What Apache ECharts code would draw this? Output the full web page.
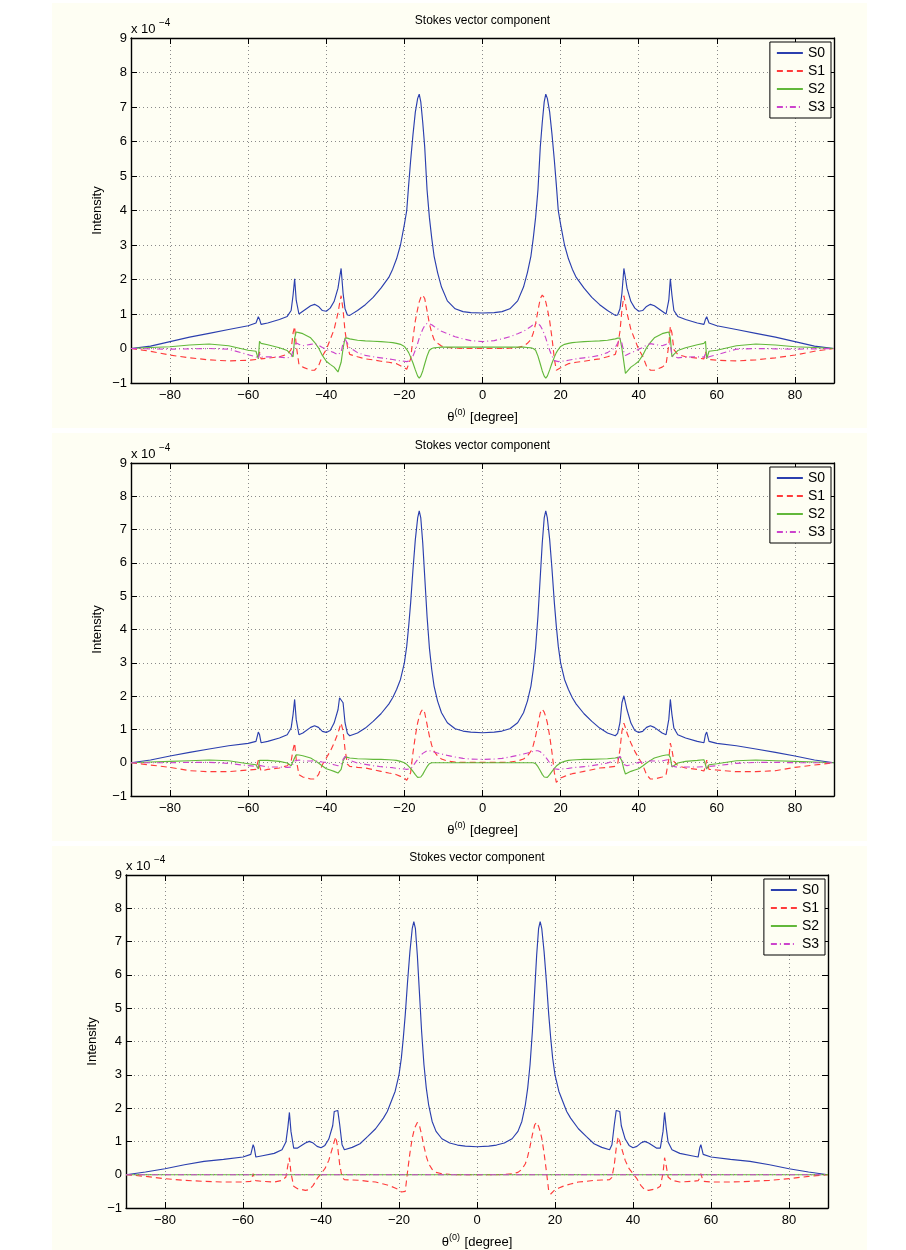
<!DOCTYPE html>
<html><head><meta charset="utf-8">
<script src="https://cdn.jsdelivr.net/npm/echarts@6/dist/echarts.min.js"></script>
<style>html,body{margin:0;padding:0;background:#fff;}#c{width:906px;height:1250px;}</style>
</head><body><div id="c"></div>
<script>
// ---------- data ----------
const theta = [-90,-85,-80,-75,-70,-65,-60,-58,-57.4,-57.1,
  -56.7,-55,-52,-50,-49,-48.5,-48.1,-47.7,-47,-46,
  -44,-43,-42,-41,-40,-39,-38,-37,-36.6,-36.2,
  -35.7,-35.2,-34.6,-34,-32,-30,-28,-26,-24,-23,
  -22,-21,-20,-19.4,-18.9,-18.4,-17.8,-17.2,-16.6,-16.2,
  -15.8,-15.3,-14.8,-14.2,-13.6,-13,-12.4,-11.5,-10.5,-9,
  -7,-5,-3,0,
  3,5,7,
  9,10.5,11.5,12.4,13,13.6,14.2,14.8,15.3,15.8,
  16.2,16.6,17.2,17.8,18.4,18.9,19.4,20,21,22,
  23,24,26,28,30,32,34,34.6,35.2,35.7,
  36.2,36.6,37,38,39,40,41,42,43,44,
  46,47,47.7,48.1,48.5,49,50,52,55,56.7,
  57.1,57.4,58,60,65,70,75,80,85,90];
const thetaEnds = [-90, 90];
const xTicks = [-80,-60,-40,-20,0,20,40,60,80];
const seriesNames = ['S0','S1','S2','S3'];

// Panel 1
const p1S0 = [0,0.07,0.2,0.33,0.44,0.55,0.66,0.74,0.92,0.85,
  0.7,0.74,0.84,0.93,1.1,1.55,2.02,1.4,1.0,1.08,
  1.24,1.28,1.22,1.1,1.08,1.17,1.36,1.75,2.05,2.32,
  1.6,1.15,0.97,0.96,1.1,1.27,1.48,1.75,2.06,2.3,
  2.6,3.0,3.6,4.0,4.75,5.45,6.2,6.85,7.25,7.37,
  7.15,6.55,5.85,4.6,3.8,3.2,2.68,2.2,1.78,1.38,
  1.15,1.07,1.04,1.03,
  1.04,1.07,1.15,
  1.38,1.78,2.2,2.68,3.2,3.8,4.6,5.85,6.55,7.15,
  7.37,7.25,6.85,6.2,5.45,4.75,4.0,3.6,3.0,2.6,
  2.3,2.06,1.75,1.48,1.27,1.1,0.96,0.97,1.15,1.6,
  2.32,2.05,1.75,1.36,1.17,1.08,1.1,1.22,1.28,1.24,
  1.08,1.0,1.4,2.02,1.55,1.1,0.93,0.84,0.74,0.7,
  0.85,0.92,0.74,0.66,0.55,0.44,0.33,0.2,0.07,0];
const p1S1 = [0,-0.08,-0.19,-0.27,-0.33,-0.36,-0.34,-0.32,-0.25,-0.1,
  -0.3,-0.28,-0.24,-0.17,-0.03,0.45,0.64,0.1,-0.46,-0.54,
  -0.63,-0.63,-0.51,-0.22,-0.03,0.26,0.55,1.03,1.3,1.53,
  1.12,0.5,0.07,-0.17,-0.24,-0.3,-0.33,-0.37,-0.4,-0.42,
  -0.44,-0.5,-0.56,-0.6,-0.63,-0.3,0.3,0.8,1.15,1.35,
  1.48,1.55,1.45,1.1,0.72,0.45,0.26,0.15,0.07,0.03,
  0.01,0,0,0,
  0,0,0.01,
  0.03,0.07,0.15,0.26,0.45,0.72,1.1,1.45,1.55,1.48,
  1.35,1.15,0.8,0.3,-0.3,-0.63,-0.6,-0.56,-0.5,-0.44,
  -0.42,-0.4,-0.37,-0.33,-0.3,-0.24,-0.17,0.07,0.5,1.12,
  1.53,1.3,1.03,0.55,0.26,-0.03,-0.22,-0.51,-0.63,-0.63,
  -0.54,-0.46,0.1,0.64,0.45,-0.03,-0.17,-0.24,-0.28,-0.3,
  -0.1,-0.25,-0.32,-0.34,-0.36,-0.33,-0.27,-0.19,-0.08,0];
const p1S2 = [0,0.03,0.05,0.1,0.13,0.08,-0.05,-0.08,-0.3,0.21,
  0.15,0.11,0.02,-0.06,-0.17,-0.24,0.3,0.48,0.46,0.43,
  0.31,0.18,0.02,-0.2,-0.37,-0.46,-0.54,-0.68,-0.72,-0.4,
  0.0,0.3,0.3,0.28,0.24,0.22,0.21,0.2,0.18,0.17,
  0.15,0.12,0.06,-0.03,-0.12,-0.25,-0.42,-0.62,-0.8,-0.86,
  -0.8,-0.65,-0.45,-0.22,-0.05,0.0,0.02,0.03,0.04,0.04,
  0.04,0.04,0.04,0.04,
  0.04,0.04,0.04,
  0.04,0.04,0.03,0.02,0.0,-0.05,-0.22,-0.45,-0.65,-0.8,
  -0.86,-0.8,-0.62,-0.42,-0.25,-0.12,-0.03,0.06,0.12,0.15,
  0.17,0.18,0.2,0.21,0.22,0.24,0.28,0.3,0.3,0.0,
  -0.4,-0.72,-0.68,-0.54,-0.46,-0.37,-0.2,0.02,0.18,0.31,
  0.43,0.46,0.48,0.3,-0.24,-0.17,-0.06,0.02,0.11,0.15,
  0.21,-0.3,-0.08,-0.05,0.08,0.13,0.1,0.05,0.03,0];
const p1S3 = [0,-0.01,-0.02,-0.01,0.0,-0.02,-0.18,-0.24,-0.3,-0.15,
  -0.25,-0.24,-0.25,-0.27,-0.25,-0.2,0.1,0.16,0.12,0.08,
  0.12,0.14,0.1,0.03,-0.02,-0.08,-0.12,-0.18,-0.2,-0.1,
  0.15,0.28,0.15,0.03,-0.12,-0.2,-0.24,-0.27,-0.3,-0.32,
  -0.34,-0.36,-0.37,-0.38,-0.39,-0.35,-0.22,-0.05,0.15,0.3,
  0.42,0.56,0.66,0.73,0.72,0.69,0.64,0.57,0.5,0.43,
  0.34,0.28,0.23,0.2,
  0.23,0.28,0.34,
  0.43,0.5,0.57,0.64,0.69,0.72,0.73,0.66,0.56,0.42,
  0.3,0.15,-0.05,-0.22,-0.35,-0.39,-0.38,-0.37,-0.36,-0.34,
  -0.32,-0.3,-0.27,-0.24,-0.2,-0.12,0.03,0.15,0.28,0.15,
  -0.1,-0.2,-0.18,-0.12,-0.08,-0.02,0.03,0.1,0.14,0.12,
  0.08,0.12,0.16,0.1,-0.2,-0.25,-0.27,-0.25,-0.24,-0.25,
  -0.15,-0.3,-0.24,-0.18,-0.02,0.0,-0.01,-0.02,-0.01,0];

// Panel 2
const p2S0 = [0,0.08,0.2,0.31,0.41,0.51,0.58,0.64,0.92,0.85,
  0.6,0.64,0.74,0.84,1.04,1.45,1.9,1.3,0.84,0.89,
  1.06,1.11,1.06,0.94,0.91,0.97,1.19,1.59,1.95,2.01,
  1.8,1.2,0.88,0.81,0.89,1.04,1.24,1.47,1.76,1.95,
  2.2,2.5,3.0,3.5,4.1,4.8,5.8,6.7,7.35,7.56,
  7.35,6.6,5.6,4.4,3.45,2.8,2.3,1.85,1.5,1.2,
  1.02,0.95,0.92,0.9,
  0.92,0.95,1.02,
  1.2,1.5,1.85,2.3,2.8,3.45,4.4,5.6,6.6,7.35,
  7.56,7.35,6.7,5.8,4.8,4.1,3.5,3.0,2.5,2.2,
  1.95,1.76,1.47,1.24,1.04,0.89,0.81,0.88,1.2,1.8,
  2.01,1.95,1.59,1.19,0.97,0.91,0.94,1.06,1.11,1.06,
  0.89,0.84,1.3,1.9,1.45,1.04,0.84,0.74,0.64,0.6,
  0.85,0.92,0.64,0.58,0.51,0.41,0.31,0.2,0.08,0];
const p2S1 = [0,-0.07,-0.14,-0.24,-0.27,-0.27,-0.22,-0.2,0.08,-0.1,
  -0.25,-0.2,-0.16,-0.09,0.04,0.39,0.59,0.1,-0.36,-0.43,
  -0.49,-0.49,-0.36,-0.06,0.14,0.34,0.59,0.89,1.05,1.19,
  0.95,0.4,-0.04,-0.11,-0.14,-0.16,-0.21,-0.26,-0.31,-0.33,
  -0.36,-0.41,-0.46,-0.53,-0.59,-0.3,0.3,0.8,1.2,1.38,
  1.52,1.61,1.5,1.15,0.8,0.52,0.35,0.2,0.11,0.05,
  0.02,0.01,0.01,0.01,
  0.01,0.01,0.02,
  0.05,0.11,0.2,0.35,0.52,0.8,1.15,1.5,1.61,1.52,
  1.38,1.2,0.8,0.3,-0.3,-0.59,-0.53,-0.46,-0.41,-0.36,
  -0.33,-0.31,-0.26,-0.21,-0.16,-0.14,-0.11,-0.04,0.4,0.95,
  1.19,1.05,0.89,0.59,0.34,0.14,-0.06,-0.36,-0.49,-0.49,
  -0.43,-0.36,0.1,0.59,0.39,0.04,-0.09,-0.16,-0.2,-0.25,
  -0.1,0.08,-0.2,-0.22,-0.27,-0.27,-0.24,-0.14,-0.07,0];
const p2S2 = [0,0.02,0.04,0.06,0.08,0.06,-0.03,-0.06,-0.19,0.07,
  0.09,0.07,0.04,-0.01,-0.09,-0.13,0.15,0.24,0.23,0.21,
  0.14,0.07,-0.01,-0.1,-0.18,-0.22,-0.26,-0.31,-0.34,-0.2,
  0.05,0.16,0.16,0.14,0.12,0.11,0.1,0.1,0.09,0.08,
  0.07,0.04,0.0,-0.05,-0.1,-0.17,-0.26,-0.36,-0.44,-0.47,
  -0.43,-0.35,-0.24,-0.12,-0.03,0.0,0.0,0.0,0.0,0.0,
  0,0,0,0,
  0,0,0,
  0.0,0.0,0.0,0.0,0.0,-0.03,-0.12,-0.24,-0.35,-0.43,
  -0.47,-0.44,-0.36,-0.26,-0.17,-0.1,-0.05,0.0,0.04,0.07,
  0.08,0.09,0.1,0.1,0.11,0.12,0.14,0.16,0.16,0.05,
  -0.2,-0.34,-0.31,-0.26,-0.22,-0.18,-0.1,-0.01,0.07,0.14,
  0.21,0.23,0.24,0.15,-0.13,-0.09,-0.01,0.04,0.07,0.09,
  0.07,-0.19,-0.06,-0.03,0.06,0.08,0.06,0.04,0.02,0];
const p2S3 = [0,0,0,0.01,0.01,-0.02,-0.09,-0.11,-0.15,-0.08,
  -0.12,-0.13,-0.13,-0.14,-0.13,-0.1,0.05,0.09,0.08,0.05,
  0.05,0.06,0.04,0.02,0.01,-0.03,-0.06,-0.09,-0.1,-0.05,
  0.1,0.19,0.12,0.07,-0.01,-0.05,-0.09,-0.12,-0.14,-0.15,
  -0.17,-0.18,-0.19,-0.2,-0.21,-0.18,-0.1,0.0,0.1,0.17,
  0.22,0.28,0.33,0.36,0.36,0.34,0.32,0.29,0.26,0.22,
  0.17,0.13,0.11,0.1,
  0.11,0.13,0.17,
  0.22,0.26,0.29,0.32,0.34,0.36,0.36,0.33,0.28,0.22,
  0.17,0.1,0.0,-0.1,-0.18,-0.21,-0.2,-0.19,-0.18,-0.17,
  -0.15,-0.14,-0.12,-0.09,-0.05,-0.01,0.07,0.12,0.19,0.1,
  -0.05,-0.1,-0.09,-0.06,-0.03,0.01,0.02,0.04,0.06,0.05,
  0.05,0.08,0.09,0.05,-0.1,-0.13,-0.14,-0.13,-0.13,-0.12,
  -0.08,-0.15,-0.11,-0.09,-0.02,0.01,0.01,0,0,0];

// Panel 3
const p3S0 = [0,0.08,0.18,0.3,0.4,0.46,0.53,0.61,0.9,0.8,
  0.53,0.57,0.64,0.75,0.98,1.42,1.87,1.3,0.8,0.8,
  0.95,1.0,0.95,0.85,0.81,0.88,1.07,1.47,1.9,1.94,
  1.93,1.5,0.9,0.75,0.82,0.93,1.15,1.38,1.7,1.9,
  2.2,2.5,3.0,3.5,4.1,4.8,5.8,6.7,7.4,7.6,
  7.4,6.6,5.55,4.3,3.3,2.6,2.1,1.6,1.3,1.08,
  0.95,0.89,0.86,0.84,
  0.86,0.89,0.95,
  1.08,1.3,1.6,2.1,2.6,3.3,4.3,5.55,6.6,7.4,
  7.6,7.4,6.7,5.8,4.8,4.1,3.5,3.0,2.5,2.2,
  1.9,1.7,1.38,1.15,0.93,0.82,0.75,0.9,1.5,1.93,
  1.94,1.9,1.47,1.07,0.88,0.81,0.85,0.95,1.0,0.95,
  0.8,0.8,1.3,1.87,1.42,0.98,0.75,0.64,0.57,0.53,
  0.8,0.9,0.61,0.53,0.46,0.4,0.3,0.18,0.08,0];
const p3S1 = [0,-0.05,-0.12,-0.17,-0.2,-0.22,-0.22,-0.2,0.03,-0.1,
  -0.18,-0.2,-0.22,-0.17,-0.07,0.28,0.51,0.05,-0.35,-0.42,
  -0.47,-0.45,-0.32,-0.12,0.03,0.18,0.43,0.83,1.0,1.14,
  0.8,0.3,-0.08,-0.15,-0.16,-0.17,-0.2,-0.22,-0.28,-0.31,
  -0.35,-0.4,-0.45,-0.52,-0.58,-0.5,0.1,0.65,1.1,1.3,
  1.45,1.57,1.5,1.2,0.85,0.55,0.33,0.16,0.07,0.03,
  0.01,0,0,0,
  0,0,0.01,
  0.03,0.07,0.16,0.33,0.55,0.85,1.2,1.5,1.57,1.45,
  1.3,1.1,0.65,0.1,-0.5,-0.58,-0.52,-0.45,-0.4,-0.35,
  -0.31,-0.28,-0.22,-0.2,-0.17,-0.16,-0.15,-0.08,0.3,0.8,
  1.14,1.0,0.83,0.43,0.18,0.03,-0.12,-0.32,-0.45,-0.47,
  -0.42,-0.35,0.05,0.51,0.28,-0.07,-0.17,-0.22,-0.2,-0.18,
  -0.1,0.03,-0.2,-0.22,-0.22,-0.2,-0.17,-0.12,-0.05,0];
const p3S2 = [0, 0];
const p3S3 = [0, 0];

// ---------- layout & style ----------
const FONT = 'Liberation Sans, Arial, Helvetica, sans-serif';
const CREAM = '#fefef3';
const COLORS = ['#2b3fae', '#ff3b3b', '#62b83a', '#cc44cc'];
const DASH = ['solid', [6, 4], 'solid', [6, 3, 1, 3]];
const grids = [
  {left: 131, top: 38, width: 703, height: 345},
  {left: 131, top: 463, width: 703, height: 333},
  {left: 126, top: 875, width: 702, height: 333}
];
const figBoxes = [{y: 3, h: 425}, {y: 433, h: 408}, {y: 846, h: 404}];
const panelData = [
  [[theta, p1S0], [theta, p1S1], [theta, p1S2], [theta, p1S3]],
  [[theta, p2S0], [theta, p2S1], [theta, p2S2], [theta, p2S3]],
  [[theta, p3S0], [theta, p3S1], [thetaEnds, p3S2], [thetaEnds, p3S3]]
];

const minus = v => String(v).replace('-', '\u2212');
const pairs = (xs, ys) => xs.map((x, i) => [x, ys[i]]);

const xAxis = [], yAxis = [], series = [], legend = [], graphic = [];
const dotted = {show: true, lineStyle: {color: '#8a8a8a', width: 1, type: [1, 3]}};
const axisLine = {show: true, onZero: false, lineStyle: {color: '#000', width: 1.4}};

figBoxes.forEach(b => graphic.push({type: 'rect', z: -10, shape: {x: 52, y: b.y, width: 815, height: b.h}, style: {fill: CREAM}}));

grids.forEach((g, i) => {
  xAxis.push({
    type: 'value', gridIndex: i, min: -90, max: 90, position: 'bottom',
    axisLine, axisTick: {inside: true, length: 6, customValues: xTicks, lineStyle: {color: '#000'}},
    axisLabel: {customValues: xTicks, formatter: minus, color: '#000', fontSize: 13, fontFamily: FONT, margin: 6},
    splitLine: dotted,
    name: '{t|\u03b8}{s|(0)}{t| [degree]}', nameLocation: 'middle', nameGap: 25, nameMoveOverlap: false,
    nameTextStyle: {rich: {
      t: {fontSize: 13, fontFamily: FONT, color: '#000'},
      s: {fontSize: 9, fontFamily: FONT, color: '#000', padding: [0, 1, 9, 0]}
    }}
  });
  xAxis.push({
    type: 'value', gridIndex: i, min: -90, max: 90, position: 'top',
    axisLine, axisTick: {inside: true, length: 6, customValues: xTicks, lineStyle: {color: '#000'}},
    axisLabel: {show: false}, splitLine: {show: false}
  });
  yAxis.push({
    type: 'value', gridIndex: i, min: -1, max: 9, interval: 1, position: 'left',
    axisLine, axisTick: {inside: true, length: 6, lineStyle: {color: '#000'}},
    axisLabel: {formatter: minus, color: '#000', fontSize: 13, fontFamily: FONT, margin: 4},
    splitLine: dotted,
    name: 'Intensity', nameLocation: 'middle', nameGap: 27, nameMoveOverlap: false,
    nameTextStyle: {fontSize: 13, fontFamily: FONT, color: '#000'}
  });
  yAxis.push({
    type: 'value', gridIndex: i, min: -1, max: 9, interval: 1, position: 'right',
    axisLine, axisTick: {inside: true, length: 6, lineStyle: {color: '#000'}},
    axisLabel: {show: false}, splitLine: {show: false}
  });
  panelData[i].forEach((d, k) => {
    series.push({
      type: 'line', name: seriesNames[k], xAxisIndex: 2 * i, yAxisIndex: 2 * i,
      data: pairs(d[0], d[1]), symbol: 'none', showSymbol: false, smooth: false,
      lineStyle: {color: COLORS[k], width: 1.15, type: DASH[k]}, itemStyle: {color: COLORS[k]},
      z: 3 + k, silent: true
    });
  });
  legend.push({
    orient: 'vertical', right: 906 - (g.left + g.width) + 3, top: g.top + 4,
    data: seriesNames, itemWidth: 26, itemHeight: 14, itemGap: 4,
    padding: [4, 6, 4, 6], borderColor: '#000', borderWidth: 1, backgroundColor: CREAM,
    itemStyle: {opacity: 0},
    textStyle: {fontSize: 14, fontFamily: FONT, color: '#000'}, selectedMode: false
  });
  graphic.push({type: 'text', x: g.left + g.width / 2, y: g.top - 17, z: 10,
    style: {text: 'Stokes vector component', font: '12px ' + FONT, fill: '#000', textAlign: 'center', textVerticalAlign: 'middle'}});
  graphic.push({type: 'text', x: g.left, y: g.top - 2, z: 10,
    style: {text: 'x 10', font: '13px ' + FONT, fill: '#000', textAlign: 'left', textVerticalAlign: 'bottom'}});
  graphic.push({type: 'text', x: g.left + 28, y: g.top - 10, z: 10,
    style: {text: '\u22124', font: '10px ' + FONT, fill: '#000', textAlign: 'left', textVerticalAlign: 'bottom'}});
});

const chart = echarts.init(document.getElementById('c'), null, {renderer: 'canvas'});
chart.setOption({
  backgroundColor: '#ffffff', animation: false,
  grid: grids.map(g => Object.assign({containLabel: false}, g)),
  xAxis, yAxis, series, legend, graphic
});
</script></body></html>
